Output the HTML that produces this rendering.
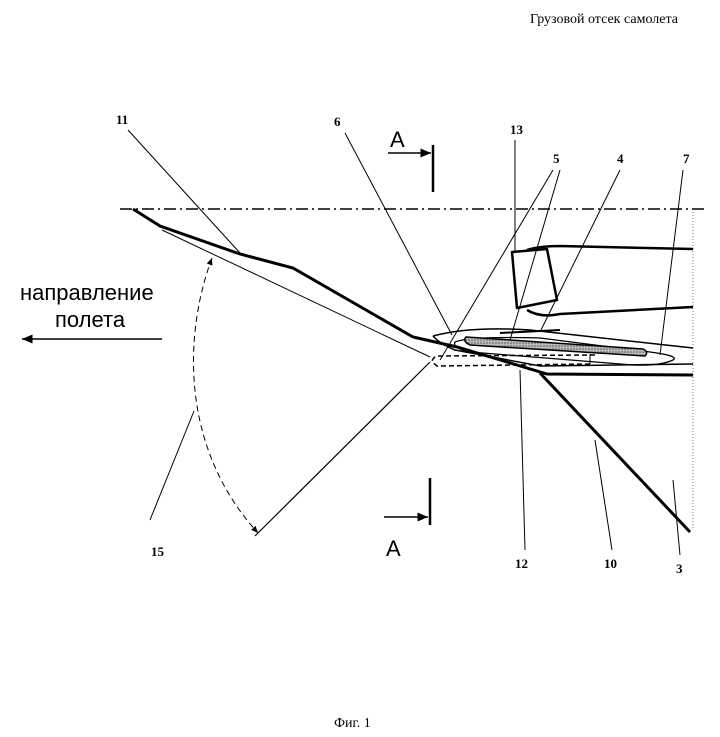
<!DOCTYPE html>
<html><head><meta charset="utf-8"><style>
body{margin:0;background:#fff}
svg{display:block}
.s{font-family:"Liberation Serif",serif;font-weight:bold;font-size:13px}
.a{font-family:"Liberation Sans",sans-serif}
</style></head><body>
<svg width="720" height="737" viewBox="0 0 720 737" xmlns="http://www.w3.org/2000/svg">
<defs>
<pattern id="h" width="3" height="3" patternUnits="userSpaceOnUse"><rect width="3" height="3" fill="#bbb"/><circle cx="1" cy="1" r="0.8" fill="#555"/></pattern>
<marker id="ar" markerWidth="8" markerHeight="8" refX="7" refY="4" orient="auto"><path d="M0,1 L7,4 L0,7z" fill="#000"/></marker>
<marker id="ar2" markerWidth="8" markerHeight="8" refX="7" refY="4" orient="auto-start-reverse"><path d="M0,1 L7,4 L0,7z" fill="#000"/></marker>
</defs>
<text x="530" y="23" font-family="Liberation Serif, serif" font-size="14">Грузовой отсек самолета</text>
<text x="334" y="727" font-family="Liberation Serif, serif" font-size="14">Фиг. 1</text>
<text x="20" y="300" class="a" font-size="22">направление</text>
<text x="55" y="327" class="a" font-size="22">полета</text>
<line x1="162" y1="339" x2="22" y2="339" stroke="#000" stroke-width="1.5" marker-end="url(#ar)"/>
<line x1="120" y1="209" x2="707" y2="209" stroke="#000" stroke-width="1.5" stroke-dasharray="12,4,2,4"/>
<line x1="693" y1="212" x2="693" y2="530" stroke="#777" stroke-width="1" stroke-dasharray="1,2"/>
<polyline points="133,209 160,226 240,254 293,268 413,337 457,347 547,374 693,375" fill="none" stroke="#000" stroke-width="3"/>
<line x1="540" y1="373" x2="690" y2="532" stroke="#000" stroke-width="3"/>
<line x1="162" y1="230" x2="430" y2="357" stroke="#000" stroke-width="1"/>
<path d="M512,252 L547,249 L557,300 L517,308 Z" fill="none" stroke="#000" stroke-width="2.5" stroke-linejoin="round"/>
<path d="M527,250 Q540,246 560,246 L693,249" fill="none" stroke="#000" stroke-width="2.5"/>
<path d="M527,310 Q540,318 560,314 L693,307" fill="none" stroke="#000" stroke-width="2.5"/>
<path d="M433,336 Q470,326 530,330 L693,348" fill="none" stroke="#000" stroke-width="1.5"/>
<path d="M433,336 Q440,344 455,350 L540,366 L693,364" fill="none" stroke="#000" stroke-width="1.5"/>
<path d="M455,342 Q470,336 540,338 L650,352 Q680,356 673,360 Q660,366 633,365 L470,352 Q452,348 455,342Z" fill="none" stroke="#000" stroke-width="1.3"/>
<path d="M466,337 L643,349 Q649,352 645,356 L470,345 Q462,341 466,337Z" fill="url(#h)" stroke="#000" stroke-width="1.5"/>
<path d="M500,333 L560,330" stroke="#000" stroke-width="2"/>
<path d="M595,355 L437,356 Q428,360 437,366 L590,364" fill="none" stroke="#000" stroke-width="1.5" stroke-dasharray="5,3"/>
<line x1="590" y1="354" x2="590" y2="364" stroke="#000"/>
<path d="M212,258 C185,330 178,445 258,533" fill="none" stroke="#000" stroke-width="1" stroke-dasharray="6,4" marker-start="url(#ar2)" marker-end="url(#ar)"/>
<line x1="430" y1="362" x2="255" y2="536" stroke="#000" stroke-width="1.2"/>
<g stroke="#000" stroke-width="1">
<line x1="128" y1="130" x2="240" y2="253"/>
<line x1="345" y1="133" x2="452" y2="335"/>
<line x1="553" y1="170" x2="440" y2="360"/>
<line x1="560" y1="170" x2="510" y2="340"/>
<line x1="620" y1="170" x2="540" y2="332"/>
<line x1="683" y1="170" x2="660" y2="355"/>
<line x1="515" y1="140" x2="515" y2="252"/>
<line x1="525" y1="550" x2="520" y2="370"/>
<line x1="612" y1="550" x2="595" y2="440"/>
<line x1="680" y1="555" x2="673" y2="480"/>
<line x1="150" y1="520" x2="194" y2="411"/>
</g>
<text x="116" y="124" class="s">11</text>
<text x="334" y="126" class="s">6</text>
<text x="510" y="134" class="s">13</text>
<text x="553" y="163" class="s">5</text>
<text x="617" y="163" class="s">4</text>
<text x="683" y="163" class="s">7</text>
<text x="515" y="568" class="s">12</text>
<text x="604" y="568" class="s">10</text>
<text x="676" y="573" class="s">3</text>
<text x="151" y="556" class="s">15</text>
<text x="390" y="147" class="a" font-size="22">A</text>
<line x1="388" y1="153" x2="431" y2="153" stroke="#000" stroke-width="1.5" marker-end="url(#ar)"/>
<line x1="433" y1="145" x2="433" y2="192" stroke="#000" stroke-width="2.5"/>
<text x="386" y="556" class="a" font-size="22">A</text>
<line x1="384" y1="517" x2="428" y2="517" stroke="#000" stroke-width="1.5" marker-end="url(#ar)"/>
<line x1="430" y1="478" x2="430" y2="525" stroke="#000" stroke-width="2.5"/>
</svg>
</body></html>
